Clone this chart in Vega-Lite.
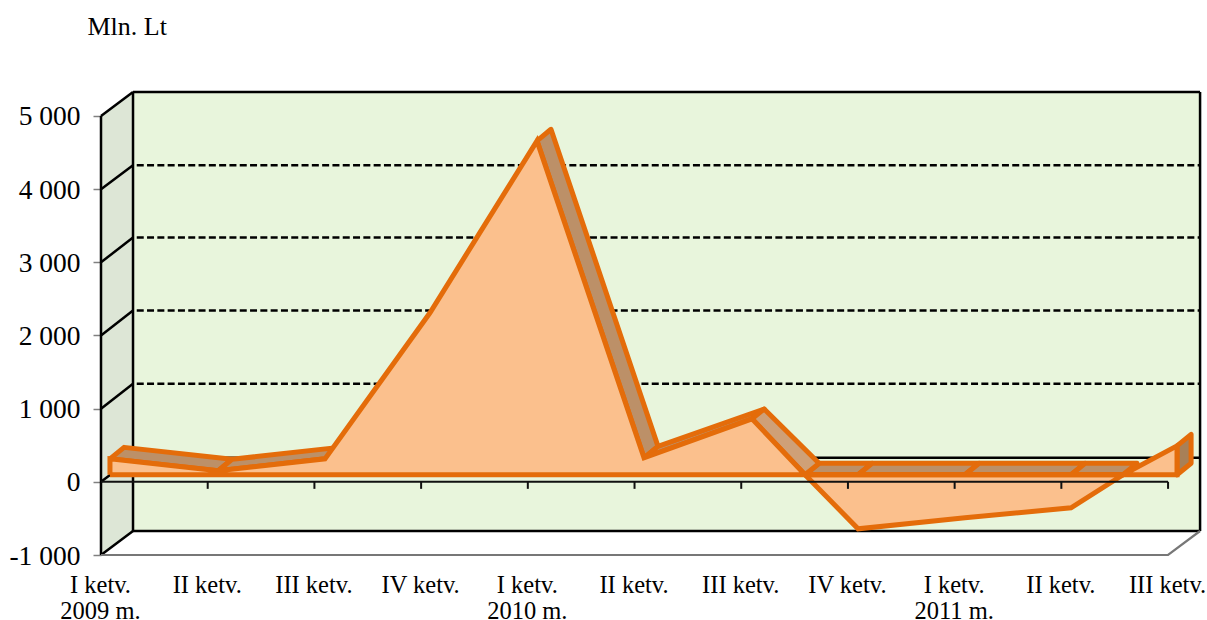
{
"$schema":"https://vega.github.io/schema/vega-lite/v6.json",
"autosize":{"type":"none"},
"padding":{"left":101,"top":91,"right":0,"bottom":65},
"width":1106,"height":464,
"background":"white",
"view":{"stroke":null},
"config":{"font":"Liberation Serif"},
"encoding":{
"x":{"field":"x","type":"quantitative","scale":{"domain":[0,10.365],"nice":false,"zero":false},
"axis":{"values":[0,1,2,3,4,5,6,7,8,9,10],"title":null,"grid":false,"domain":false,"ticks":false,"labelFont":"Liberation Serif","labelFontSize":24.5,"labelColor":"#000","labelPadding":18,"labelOffset":-1,"labelFlush":false,"labelOverlap":false,"labelLineHeight":26.5,"labelBound":false,
"labelExpr":"[['I ketv.','2009 m.'],['II ketv.'],['III ketv.'],['IV ketv.'],['I ketv.','2010 m.'],['II ketv.'],['III ketv.'],['IV ketv.'],['I ketv.','2011 m.'],['II ketv.'],['III ketv.']][datum.value]"}},
"y":{"field":"y","type":"quantitative","scale":{"domain":[-1000,5341],"nice":false,"zero":false},
"axis":{"values":[-1000,0,1000,2000,3000,4000,5000],"grid":false,"domain":false,"tickSize":8,"tickColor":"#808080","tickWidth":1.5,"labelFont":"Liberation Serif","labelFontSize":27.5,"labelColor":"#000","labelPadding":13,"labelOffset":1,"labelOverlap":false,"labelExpr":"replace(replace(format(datum.value,','),',',' '),'\u2212','-')",
"title":"Mln. Lt","titleFont":"Liberation Serif","titleFontSize":26,"titleFontWeight":"normal","titleColor":"#000","titleAngle":0,"titleAlign":"left","titleBaseline":"alphabetic","titleX":-14,"titleY":-57}},
"order":{"field":"ord","type":"quantitative"},
"detail":{"field":"seg","type":"nominal"}
},
"layer":[
{"data":{"values":[{"seg":"b","ord":1,"x":0.3,"y":5328},{"seg":"b","ord":2,"x":10.3,"y":5328},{"seg":"b","ord":3,"x":10.3,"y":-672},{"seg":"b","ord":4,"x":0.3,"y":-672},{"seg":"b","ord":5,"x":0.3,"y":5328}]},
"mark":{"type":"line","fill":"#E8F5DC","stroke":"#E8F5DC","strokeWidth":1}},
{"data":{"values":[{"seg":"s","ord":1,"x":0,"y":5000},{"seg":"s","ord":2,"x":0.3,"y":5328},{"seg":"s","ord":3,"x":0.3,"y":-672},{"seg":"s","ord":4,"x":0,"y":-1000},{"seg":"s","ord":5,"x":0,"y":5000}]},
"mark":{"type":"line","fill":"#DDE6D6","stroke":"#DDE6D6","strokeWidth":1}},
{"data":{"values":[{"seg":"g4","ord":1,"x":0.335,"y":4328},{"seg":"g4","ord":2,"x":10.3,"y":4328},{"seg":"g3","ord":1,"x":0.335,"y":3338},{"seg":"g3","ord":2,"x":10.3,"y":3338},{"seg":"g2","ord":1,"x":0.335,"y":2340},{"seg":"g2","ord":2,"x":10.3,"y":2340},{"seg":"g1","ord":1,"x":0.335,"y":1340},{"seg":"g1","ord":2,"x":10.3,"y":1340}]},
"mark":{"type":"line","stroke":"#000","strokeWidth":2.5,"strokeDash":[7,3.3]}},
{"data":{"values":[
{"seg":"z","ord":1,"x":0.3,"y":328},{"seg":"z","ord":2,"x":10.3,"y":328},
{"seg":"d5","ord":1,"x":0,"y":5000},{"seg":"d5","ord":2,"x":0.3,"y":5328},
{"seg":"d4","ord":1,"x":0,"y":4000},{"seg":"d4","ord":2,"x":0.3,"y":4328},
{"seg":"d3","ord":1,"x":0,"y":3000},{"seg":"d3","ord":2,"x":0.3,"y":3338},
{"seg":"d2","ord":1,"x":0,"y":2000},{"seg":"d2","ord":2,"x":0.3,"y":2340},
{"seg":"d1","ord":1,"x":0,"y":1000},{"seg":"d1","ord":2,"x":0.3,"y":1340},
{"seg":"d0","ord":1,"x":0,"y":0},{"seg":"d0","ord":2,"x":0.3,"y":328},
{"seg":"dm","ord":1,"x":0,"y":-1000},{"seg":"dm","ord":2,"x":0.3,"y":-672},
{"seg":"top","ord":1,"x":0.3,"y":5328},{"seg":"top","ord":2,"x":10.3,"y":5328},
{"seg":"bot","ord":1,"x":0.3,"y":-672},{"seg":"bot","ord":2,"x":10.3,"y":-672},
{"seg":"bk","ord":1,"x":0.3,"y":5328},{"seg":"bk","ord":2,"x":0.3,"y":-672},
{"seg":"rt","ord":1,"x":10.3,"y":5328},{"seg":"rt","ord":2,"x":10.3,"y":-672},
{"seg":"lf","ord":1,"x":0,"y":5000},{"seg":"lf","ord":2,"x":0,"y":-1000}
]},
"mark":{"type":"line","stroke":"#000","strokeWidth":2.5}},
{"data":{"values":[
{"seg":"f","ord":1,"x":0,"y":-1000},{"seg":"f","ord":2,"x":10,"y":-1000},{"seg":"f","ord":3,"x":10.3,"y":-672}
]},
"mark":{"type":"line","stroke":"#777","strokeWidth":2.2}},
{"data":{"values":[
{"seg":"a","ord":1,"x":0.084,"y":314},{"seg":"a","ord":2,"x":1.097,"y":150},{"seg":"a","ord":3,"x":1.228,"y":308},{"seg":"a","ord":4,"x":0.216,"y":471},{"seg":"a","ord":5,"x":0.084,"y":314},
{"seg":"c","ord":1,"x":1.097,"y":150},{"seg":"c","ord":2,"x":2.099,"y":314},{"seg":"c","ord":3,"x":2.231,"y":471},{"seg":"c","ord":4,"x":1.228,"y":308},{"seg":"c","ord":5,"x":1.097,"y":150},
{"seg":"e","ord":1,"x":4.086,"y":4660},{"seg":"e","ord":2,"x":5.089,"y":328},{"seg":"e","ord":3,"x":5.22,"y":485},{"seg":"e","ord":4,"x":4.217,"y":4818},{"seg":"e","ord":5,"x":4.086,"y":4660},
{"seg":"f","ord":1,"x":5.089,"y":328},{"seg":"f","ord":2,"x":6.101,"y":861},{"seg":"f","ord":3,"x":6.215,"y":995},{"seg":"f","ord":4,"x":5.22,"y":485},{"seg":"f","ord":5,"x":5.089,"y":328},
{"seg":"h","ord":1,"x":6.598,"y":96},{"seg":"h","ord":2,"x":7.095,"y":96},{"seg":"h","ord":3,"x":7.226,"y":253},{"seg":"h","ord":4,"x":6.729,"y":253},{"seg":"h","ord":5,"x":6.598,"y":96},
{"seg":"i","ord":1,"x":7.095,"y":96},{"seg":"i","ord":2,"x":8.097,"y":96},{"seg":"i","ord":3,"x":8.229,"y":253},{"seg":"i","ord":4,"x":7.226,"y":253},{"seg":"i","ord":5,"x":7.095,"y":96},
{"seg":"j","ord":1,"x":8.097,"y":96},{"seg":"j","ord":2,"x":9.091,"y":96},{"seg":"j","ord":3,"x":9.222,"y":253},{"seg":"j","ord":4,"x":8.229,"y":253},{"seg":"j","ord":5,"x":8.097,"y":96},
{"seg":"k","ord":1,"x":9.091,"y":96},{"seg":"k","ord":2,"x":9.578,"y":96},{"seg":"k","ord":3,"x":9.71,"y":253},{"seg":"k","ord":4,"x":9.222,"y":253},{"seg":"k","ord":5,"x":9.091,"y":96}
]},
"mark":{"type":"line","fill":"#BC9068","stroke":"#E46C0A","strokeWidth":5,"strokeJoin":"round"}},
{"data":{"values":[
{"seg":"g","ord":1,"x":6.101,"y":861},{"seg":"g","ord":2,"x":6.598,"y":96},{"seg":"g","ord":3,"x":6.729,"y":253},{"seg":"g","ord":4,"x":6.215,"y":995},{"seg":"g","ord":5,"x":6.101,"y":861}
]},
"mark":{"type":"line","fill":"#CFA077","stroke":"#E46C0A","strokeWidth":5,"strokeJoin":"round"}},
{"data":{"values":[
{"seg":"r","ord":1,"x":10.084,"y":492},{"seg":"r","ord":2,"x":10.216,"y":649},{"seg":"r","ord":3,"x":10.216,"y":253},{"seg":"r","ord":4,"x":10.084,"y":96},{"seg":"r","ord":5,"x":10.084,"y":492}
]},
"mark":{"type":"line","fill":"#A88058","stroke":"#E46C0A","strokeWidth":5,"strokeJoin":"round"}},
{"data":{"values":[
{"seg":"n","ord":1,"x":6.598,"y":96},{"seg":"n","ord":2,"x":7.095,"y":-642},{"seg":"n","ord":3,"x":8.097,"y":-492},{"seg":"n","ord":4,"x":9.091,"y":-355},{"seg":"n","ord":5,"x":9.578,"y":96},{"seg":"n","ord":6,"x":6.598,"y":96},
{"seg":"p","ord":1,"x":0.084,"y":96},{"seg":"p","ord":2,"x":0.084,"y":314},{"seg":"p","ord":3,"x":1.097,"y":150},{"seg":"p","ord":4,"x":2.099,"y":314},{"seg":"p","ord":5,"x":3.083,"y":2310},{"seg":"p","ord":6,"x":4.086,"y":4660},{"seg":"p","ord":7,"x":5.089,"y":328},{"seg":"p","ord":8,"x":6.101,"y":861},{"seg":"p","ord":9,"x":6.598,"y":96},{"seg":"p","ord":10,"x":9.578,"y":96},{"seg":"p","ord":11,"x":10.084,"y":492},{"seg":"p","ord":12,"x":10.084,"y":96},{"seg":"p","ord":13,"x":0.084,"y":96}
]},
"mark":{"type":"line","fill":"#FBC08D","stroke":"#E46C0A","strokeWidth":5,"strokeJoin":"miter"}},
{"data":{"values":[
{"seg":"ax","ord":1,"x":0,"y":0},{"seg":"ax","ord":2,"x":10,"y":0},
{"seg":"t1","ord":1,"x":1,"y":0},{"seg":"t1","ord":2,"x":1,"y":-96},
{"seg":"t2","ord":1,"x":2,"y":0},{"seg":"t2","ord":2,"x":2,"y":-96},
{"seg":"t3","ord":1,"x":3,"y":0},{"seg":"t3","ord":2,"x":3,"y":-96},
{"seg":"t4","ord":1,"x":4,"y":0},{"seg":"t4","ord":2,"x":4,"y":-96},
{"seg":"t5","ord":1,"x":5,"y":0},{"seg":"t5","ord":2,"x":5,"y":-96},
{"seg":"t6","ord":1,"x":6,"y":0},{"seg":"t6","ord":2,"x":6,"y":-96},
{"seg":"t7","ord":1,"x":7,"y":0},{"seg":"t7","ord":2,"x":7,"y":-96},
{"seg":"t8","ord":1,"x":8,"y":0},{"seg":"t8","ord":2,"x":8,"y":-96},
{"seg":"t9","ord":1,"x":9,"y":0},{"seg":"t9","ord":2,"x":9,"y":-96},
{"seg":"t10","ord":1,"x":10,"y":0},{"seg":"t10","ord":2,"x":10,"y":-96}
]},
"mark":{"type":"line","stroke":"#111","strokeWidth":2}}
]
}
